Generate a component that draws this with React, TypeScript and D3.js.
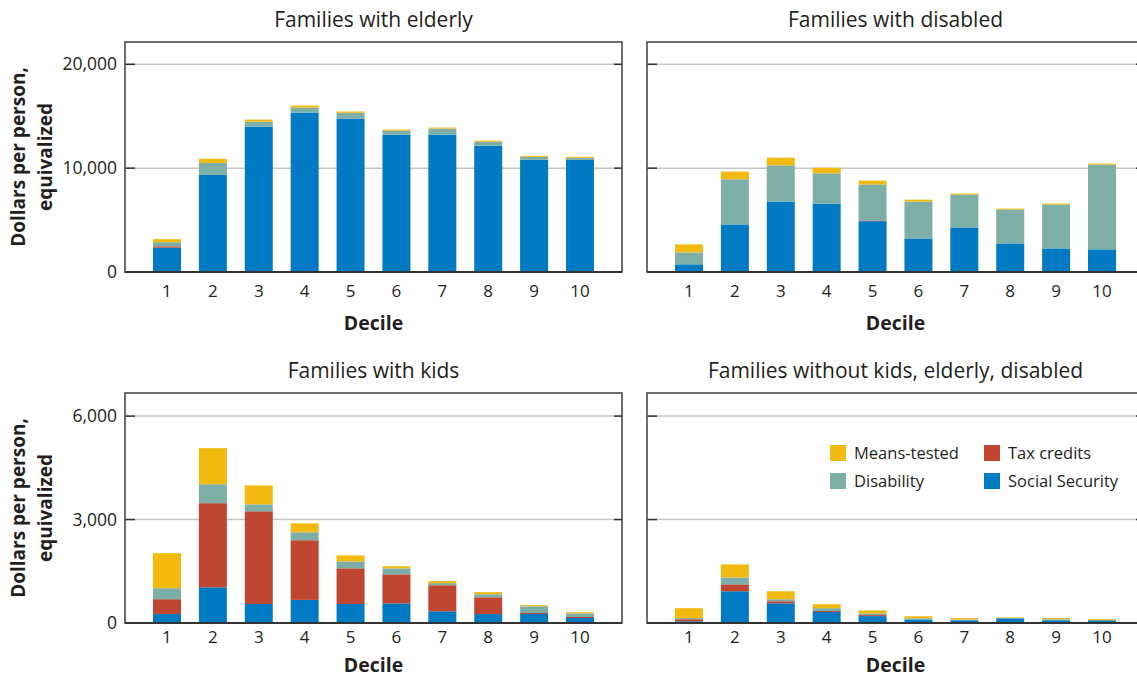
import React from "react";
import * as d3 from "d3";

const deciles = ["1", "2", "3", "4", "5", "6", "7", "8", "9", "10"];
const seriesKeys = ["Social Security", "Tax credits", "Disability", "Means-tested"];
const seriesColors = ["#007bc3", "#bf4630", "#7eafa7", "#f2b90f"];

// Families with elderly
const elderlySocialSecurity = [2350, 9350, 14000, 15350, 14780, 13230, 13230, 12160, 10800, 10800];
const elderlyTaxCredits = [130, 0, 0, 0, 0, 0, 0, 0, 0, 0];
const elderlyDisability = [390, 1160, 480, 480, 550, 390, 580, 390, 290, 200];
const elderlyMeansTested = [290, 390, 200, 200, 130, 100, 100, 100, 100, 100];

// Families with disabled
const disabledSocialSecurity = [740, 4580, 6780, 6590, 4900, 3230, 4290, 2750, 2270, 2180];
const disabledTaxCredits = [0, 0, 0, 0, 60, 0, 0, 0, 0, 0];
const disabledDisability = [1150, 4350, 3490, 2910, 3460, 3550, 3170, 3260, 4220, 8160];
const disabledMeansTested = [770, 740, 740, 540, 380, 190, 100, 100, 100, 100];

// Families with kids
const kidsSocialSecurity = [260, 1035, 550, 670, 550, 570, 340, 260, 260, 145];
const kidsTaxCredits = [430, 2440, 2690, 1730, 1035, 840, 755, 485, 30, 30];
const kidsDisability = [320, 550, 200, 230, 200, 175, 60, 90, 195, 105];
const kidsMeansTested = [1015, 1045, 550, 260, 175, 60, 60, 60, 30, 30];

// Families without kids, elderly, disabled
const otherSocialSecurity = [50, 920, 570, 320, 200, 105, 80, 135, 80, 80];
const otherTaxCredits = [60, 200, 60, 30, 30, 0, 0, 0, 0, 0];
const otherDisability = [30, 200, 60, 80, 50, 30, 20, 15, 30, 0];
const otherMeansTested = [290, 380, 230, 115, 85, 60, 40, 15, 30, 30];

const topTicks = [0, 10000, 20000];
const bottomTicks = [0, 3000, 6000];

const legendOrder = [
  { key: "Means-tested", idx: 3 },
  { key: "Tax credits", idx: 1 },
  { key: "Disability", idx: 2 },
  { key: "Social Security", idx: 0 },
];

const FONT = "'Open Sans', 'Noto Sans', sans-serif";
const TEXT = "#231f20";

type PanelDef = {
  title: string;
  data: number[][];
  ticks: number[];
  max: number;
  x0: number;
  x1: number;
  y0: number;
  y1: number;
  labelOff: number;
  decileOff: number;
  showY: boolean;
  legend: boolean;
};

function Panel({ p }: { p: PanelDef }) {
  const rows = deciles.map((d, i) => {
    const r: any = { decile: d };
    seriesKeys.forEach((k, s) => (r[k] = p.data[s][i]));
    return r;
  });
  const stacked = d3.stack<any>().keys(seriesKeys)(rows);
  const x = d3
    .scaleBand<string>()
    .domain(deciles)
    .range([p.x0, p.x1])
    .paddingInner(0.39)
    .paddingOuter(0.61);
  const y = d3.scaleLinear().domain([0, p.max]).range([p.y1, p.y0]);
  const fmt = d3.format(",");
  const cx = (p.x0 + p.x1) / 2;
  const cy = (p.y0 + p.y1) / 2;
  return (
    <g>
      <text x={cx} y={p.y0 - 15} textAnchor="middle" fontSize={21} fill={TEXT} fontFamily={FONT}>
        {p.title}
      </text>
      {p.ticks.slice(1).map((t) => (
        <g key={t}>
          <line x1={p.x0} x2={p.x1} y1={y(t)} y2={y(t)} stroke="#c6c6c6" strokeWidth={1.5} />
          <line x1={p.x0} x2={p.x0 + 10} y1={y(t)} y2={y(t)} stroke="#333" strokeWidth={1.5} />
          <line x1={p.x1 - 8} x2={p.x1} y1={y(t)} y2={y(t)} stroke="#333" strokeWidth={1.5} />
        </g>
      ))}
      {p.showY &&
        p.ticks.map((t) => (
          <text key={t} x={p.x0 - 8} y={y(t)} dy="0.35em" textAnchor="end" fontSize={17.5} fill={TEXT} fontFamily={FONT}>
            {fmt(t)}
          </text>
        ))}
      {stacked.map((layer, s) => (
        <g key={layer.key} fill={seriesColors[s]}>
          {layer.map((d, i) =>
            d[1] - d[0] > 0 ? (
              <rect
                key={i}
                x={x(deciles[i])}
                width={x.bandwidth()}
                y={y(d[1])}
                height={y(d[0]) - y(d[1])}
              />
            ) : null
          )}
        </g>
      ))}
      <rect x={p.x0} y={p.y0} width={p.x1 - p.x0} height={p.y1 - p.y0} fill="none" stroke="#4a4a4a" strokeWidth={1.6} />
      <line x1={p.x0} x2={p.x1} y1={p.y1} y2={p.y1} stroke="#333" strokeWidth={2} />
      {deciles.map((d) => (
        <text key={d} x={(x(d) as number) + x.bandwidth() / 2} y={p.y1 + p.labelOff} textAnchor="middle" fontSize={17} fill={TEXT} fontFamily={FONT}>
          {d}
        </text>
      ))}
      <text x={cx} y={p.y1 + p.decileOff} textAnchor="middle" fontSize={19.5} fontWeight="bold" fill={TEXT} fontFamily={FONT}>
        Decile
      </text>
      {p.showY && (
        <text transform={`translate(34, ${cy}) rotate(-90)`} textAnchor="middle" fontSize={19} fontWeight="bold" fill={TEXT} fontFamily={FONT}>
          <tspan x={0} dy="-0.45em">Dollars per person,</tspan>
          <tspan x={0} dy="1.38em">equivalized</tspan>
        </text>
      )}
      {p.legend &&
        legendOrder.map((l, i) => {
          const col = i % 2;
          const row = Math.floor(i / 2);
          const lx = 830 + col * 154;
          const ly = 445 + row * 28;
          return (
            <g key={l.key}>
              <rect x={lx} y={ly} width={16} height={16} fill={seriesColors[l.idx]} />
              <text x={lx + 24} y={ly + 8} dy="0.35em" fontSize={16.5} fill={TEXT} fontFamily={FONT}>
                {l.key}
              </text>
            </g>
          );
        })}
    </g>
  );
}

export default function App() {
  const panels: PanelDef[] = [
    {
      title: "Families with elderly",
      data: [elderlySocialSecurity, elderlyTaxCredits, elderlyDisability, elderlyMeansTested],
      ticks: topTicks,
      max: 22150,
      x0: 125,
      x1: 622,
      y0: 42,
      y1: 272,
      labelOff: 25,
      decileOff: 58,
      showY: true,
      legend: false,
    },
    {
      title: "Families with disabled",
      data: [disabledSocialSecurity, disabledTaxCredits, disabledDisability, disabledMeansTested],
      ticks: topTicks,
      max: 22150,
      x0: 647,
      x1: 1144,
      y0: 42,
      y1: 272,
      labelOff: 25,
      decileOff: 58,
      showY: false,
      legend: false,
    },
    {
      title: "Families with kids",
      data: [kidsSocialSecurity, kidsTaxCredits, kidsDisability, kidsMeansTested],
      ticks: bottomTicks,
      max: 6670,
      x0: 125,
      x1: 622,
      y0: 393,
      y1: 623,
      labelOff: 20,
      decileOff: 49,
      showY: true,
      legend: false,
    },
    {
      title: "Families without kids, elderly, disabled",
      data: [otherSocialSecurity, otherTaxCredits, otherDisability, otherMeansTested],
      ticks: bottomTicks,
      max: 6670,
      x0: 647,
      x1: 1144,
      y0: 393,
      y1: 623,
      labelOff: 20,
      decileOff: 49,
      showY: false,
      legend: true,
    },
  ];
  return (
    <svg
      width={1137}
      height={678}
      style={{ position: "absolute", left: 0, top: 0, background: "#fff" }}
    >
      {panels.map((p) => (
        <Panel key={p.title} p={p} />
      ))}
    </svg>
  );
}
